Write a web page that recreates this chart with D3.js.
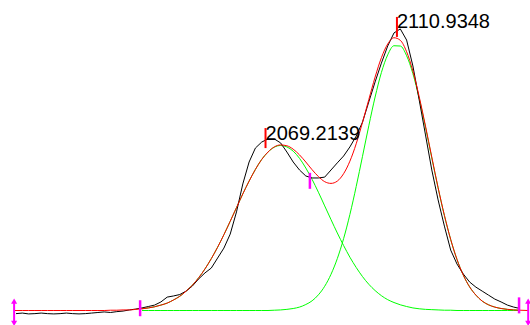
<!DOCTYPE html>
<html lang="en">
<head>
    <meta charset="UTF-8">
    <title>Peak fit</title>
    <script src="https://d3js.org/d3.v7.min.js"></script>
    <style>
        body { margin: 0; background: #fff; }
        .data { fill: none; stroke: #000; stroke-width: 1px; }
        .fit { fill: none; stroke: #ff0000; stroke-width: 1px; }
        .comp { fill: none; stroke: #00ff00; stroke-width: 1px; }
        .peak-label { font-family: "Liberation Sans", Arial, sans-serif; font-size: 20px; fill: #000; }
    </style>
</head>
<body>
    <div id="chart"></div>

    <script>
        // sampling grid (wavenumber)
        const wavenumber = [1990, 1992, 1994, 1996, 1998, 2000, 2002, 2004, 2006, 2008,
            2010, 2012, 2014, 2016, 2018, 2020, 2022, 2024, 2026, 2028,
            2030, 2032, 2034, 2036, 2038, 2040, 2042, 2044, 2046, 2048,
            2050, 2052, 2054, 2056, 2058, 2060, 2062, 2064, 2066, 2068,
            2070, 2072, 2074, 2076, 2078, 2080, 2082, 2084, 2086, 2088,
            2090, 2092, 2094, 2096, 2098, 2100, 2102, 2104, 2106, 2108,
            2110, 2112, 2114, 2116, 2118, 2120, 2122, 2124, 2126, 2128,
            2130, 2132, 2134, 2136, 2138, 2140, 2142, 2144, 2146, 2148, 2150];

        // measured spectrum (black)
        const measured = [-0.011, -0.009, -0.012, -0.011, -0.009, -0.011, -0.012, -0.011, -0.009, -0.011,
            -0.012, -0.011, -0.009, -0.007, -0.005, -0.007, -0.004, -0.002, 0.002, 0.005,
            0.009, 0.014, 0.019, 0.030, 0.047, 0.051, 0.056, 0.068, 0.086, 0.111,
            0.132, 0.149, 0.184, 0.219, 0.268, 0.346, 0.444, 0.521, 0.570, 0.591,
            0.602, 0.602, 0.588, 0.556, 0.521, 0.493, 0.472, 0.465, 0.465, 0.468,
            0.493, 0.518, 0.542, 0.574, 0.612, 0.661, 0.732, 0.802, 0.868, 0.928,
            0.974, 0.988, 0.949, 0.858, 0.739, 0.616, 0.493, 0.388, 0.296, 0.212,
            0.163, 0.128, 0.100, 0.082, 0.068, 0.054, 0.040, 0.030, 0.019, 0.012, 0.007];

        // total fit (red)
        const fitTotal = [0, 0, 0, 0, 0, 0, 0, 0, 0, 0,
            0, 0, 0, 0, 0, 0.001, 0.001, 0.002, 0.002, 0.004,
            0.006, 0.009, 0.013, 0.019, 0.026, 0.037, 0.050, 0.068, 0.089, 0.115,
            0.146, 0.182, 0.222, 0.266, 0.313, 0.361, 0.409, 0.454, 0.495, 0.530,
            0.556, 0.574, 0.581, 0.578, 0.566, 0.546, 0.521, 0.494, 0.470, 0.452,
            0.446, 0.454, 0.480, 0.524, 0.585, 0.660, 0.740, 0.819, 0.887, 0.935,
            0.957, 0.948, 0.908, 0.840, 0.750, 0.647, 0.538, 0.431, 0.334, 0.249,
            0.179, 0.124, 0.083, 0.054, 0.033, 0.020, 0.012, 0.007, 0.004, 0.002, 0.001];

        // component peaks (green), only drawn from the left baseline point on
        const peak1 = [null, null, null, null, null, null, null, null, null, null,
            null, null, null, null, null, null, null, null, null, null,
            0.006, 0.009, 0.013, 0.019, 0.026, 0.037, 0.050, 0.068, 0.089, 0.115,
            0.146, 0.182, 0.222, 0.266, 0.313, 0.361, 0.409, 0.454, 0.495, 0.530,
            0.556, 0.573, 0.579, 0.574, 0.559, 0.534, 0.500, 0.460, 0.415, 0.367,
            0.319, 0.272, 0.228, 0.187, 0.151, 0.119, 0.092, 0.070, 0.052, 0.038,
            0.028, 0.020, 0.014, 0.009, 0.006, 0.004, 0.003, 0.002, 0.001, 0.001,
            0, 0, 0, 0, 0, 0, 0, 0, 0, 0, 0];

        const peak2 = [null, null, null, null, null, null, null, null, null, null,
            null, null, null, null, null, null, null, null, null, null,
            0, 0, 0, 0, 0, 0, 0, 0, 0, 0,
            0, 0, 0, 0, 0, 0, 0, 0, 0, 0,
            0, 0.001, 0.002, 0.004, 0.007, 0.012, 0.021, 0.034, 0.055, 0.085,
            0.127, 0.182, 0.252, 0.337, 0.435, 0.541, 0.648, 0.749, 0.835, 0.897,
            0.929, 0.928, 0.894, 0.831, 0.744, 0.643, 0.535, 0.430, 0.333, 0.249,
            0.179, 0.124, 0.083, 0.054, 0.033, 0.020, 0.012, 0.007, 0.004, 0.002, 0.001];

        // labelled peak positions
        const peakPositions = [2069.2139, 2110.9348];
        const peakHeights = [0.605, 0.995];

        // baseline anchor points and range ends
        const anchorPositions = [2029.4, 2083.3, 2149.7];
        const anchorHeights = [0.008, 0.455, 0.018];
        const rangeEnds = [1989.4, 2152.6];

        const width = 530, height = 325;

        const svg = d3.select("#chart")
            .append("svg")
            .attr("width", width)
            .attr("height", height);

        const x = d3.scaleLinear()
            .domain([1990, 2150])
            .range([16, 520]);

        const y = d3.scaleLinear()
            .domain([0, 1])
            .range([310.5, 25.5]);

        const rows = wavenumber.map((w, i) => ({
            w: w,
            measured: measured[i],
            fit: fitTotal[i],
            p1: peak1[i],
            p2: peak2[i]
        }));

        const lineFor = key => d3.line()
            .defined(d => d[key] !== null)
            .x(d => x(d.w))
            .y(d => y(d[key]))
            .curve(key === "measured" ? d3.curveLinear : d3.curveMonotoneX);

        // green components
        ["p1", "p2"].forEach(k => {
            svg.append("path")
                .datum(rows)
                .attr("class", "comp")
                .attr("d", lineFor(k));
        });

        // measured data
        svg.append("path")
            .datum(rows)
            .attr("class", "data")
            .attr("d", lineFor("measured"));

        // fitted sum, extended out to both range ends
        svg.append("path")
            .datum([{ w: rangeEnds[0], fit: 0 }].concat(rows, [{ w: rangeEnds[1], fit: 0 }]))
            .attr("class", "fit")
            .attr("d", lineFor("fit"));

        // peak ticks + labels
        peakPositions.forEach((p, i) => {
            svg.append("line")
                .attr("x1", x(p)).attr("x2", x(p))
                .attr("y1", y(peakHeights[i]) - 10)
                .attr("y2", y(peakHeights[i]) + 10)
                .attr("stroke", "#ff0000")
                .attr("stroke-width", 2);

            svg.append("text")
                .attr("class", "peak-label")
                .attr("x", x(p))
                .attr("y", y(peakHeights[i]) + 1.5)
                .text(p.toFixed(4));
        });

        // magenta anchor ticks
        anchorPositions.forEach((p, i) => {
            svg.append("line")
                .attr("x1", x(p)).attr("x2", x(p))
                .attr("y1", y(anchorHeights[i]) - 8)
                .attr("y2", y(anchorHeights[i]) + 8)
                .attr("stroke", "#ff00ff")
                .attr("stroke-width", 2.5);
        });

        // double arrows at the range ends
        const tri = d3.symbol().type(d3.symbolTriangle).size(16);
        rangeEnds.forEach(p => {
            const cx = x(p);
            svg.append("line")
                .attr("x1", cx).attr("x2", cx)
                .attr("y1", y(0) - 9).attr("y2", y(0) + 13)
                .attr("stroke", "#ff00ff")
                .attr("stroke-width", 2);
            svg.append("path")
                .attr("d", tri())
                .attr("fill", "#ff00ff")
                .attr("transform", `translate(${cx},${y(0) - 8.5})`);
            svg.append("path")
                .attr("d", tri())
                .attr("fill", "#ff00ff")
                .attr("transform", `translate(${cx},${y(0) + 12}) rotate(180)`);
        });
    </script>
</body>
</html>
